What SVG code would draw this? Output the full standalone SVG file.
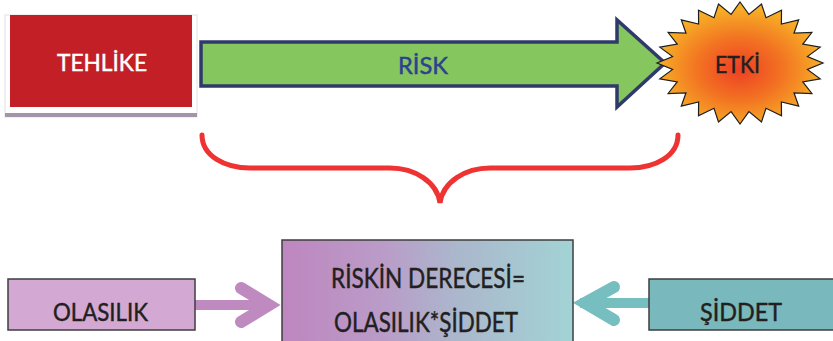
<svg xmlns="http://www.w3.org/2000/svg" width="833" height="341" viewBox="0 0 833 341">
<defs>
<radialGradient id="burst" cx="0.5" cy="0.55" r="0.5">
<stop offset="0" stop-color="#EE3F24"/>
<stop offset="0.5" stop-color="#F27222"/>
<stop offset="1" stop-color="#F7AE26"/>
</radialGradient>
<linearGradient id="mix" x1="0" y1="0" x2="1" y2="0">
<stop offset="0" stop-color="#BE86BF"/>
<stop offset="0.35" stop-color="#BA9CC8"/>
<stop offset="0.6" stop-color="#ABB7CC"/>
<stop offset="1" stop-color="#A2D3D5"/>
</linearGradient>
</defs>
<style>
text{font-family:Lato,"Liberation Sans",sans-serif;text-anchor:middle;stroke-width:0.45}
.dark{fill:#231F20;stroke:#231F20}
.box{stroke:#3E3E3E;stroke-width:1.5}
.arm{fill:none;stroke-linecap:round;stroke-linejoin:miter;stroke-width:12}
.shaft{fill:none;stroke-width:10}
</style>
<rect width="833" height="341" fill="#FFFFFF"/>

<g id="connectors">
<path d="M202,135 C202,156 225,168 250,168 L390,168 C415,168 437,182 440,203 C443,182 465,168 490,168 L630,168 C655,168 678,156 678,135" fill="none" stroke="#EF3232" stroke-width="5" stroke-linecap="round"/>
<g id="arrow-olasilik">
<line class="shaft" x1="195" y1="305" x2="268" y2="305" stroke="#BE8ABF"/>
<polyline class="arm" points="241,288 269,305 241,322" stroke="#BE8ABF"/>
</g>
<g id="arrow-siddet">
<line class="shaft" x1="649" y1="303" x2="580" y2="303" stroke="#76BEC0"/>
<polyline class="arm" points="614,287 585,303 614,320" stroke="#76BEC0"/>
</g>
</g>

<g id="tehlike">
<rect x="5" y="15" width="192" height="102" fill="#FFFFFF" stroke="#E2E0E4" stroke-width="1"/>
<rect x="10" y="15" width="182" height="92" fill="#C31F26"/>
<rect x="5" y="113" width="192" height="4" fill="#A494AA"/>
<text x="102" y="71" font-size="24" fill="#FFFFFF" stroke="#FFFFFF" textLength="90" lengthAdjust="spacingAndGlyphs">TEHLİKE</text>
</g>

<g id="risk">
<path d="M201,42 L617,42 L617,20 L665,63 L617,107 L617,86 L201,86 Z" fill="#85C65F" stroke="#2F3A6B" stroke-width="3.5" stroke-linejoin="miter"/>
<text x="423" y="74" font-size="23" fill="#2E4190" stroke="#2E4190" textLength="50" lengthAdjust="spacingAndGlyphs">RİSK</text>
</g>

<g id="etki">
<polygon fill="url(#burst)" stroke="#1E1E1E" stroke-width="1.2" points="740,2 748.9,14.4 761.5,4.1 766,17.7 781.5,10.2 781.4,24.1 798.7,19.9 794,33.2 811.9,32.5 802.8,44.2 820.2,47.2 807.4,56.6 823,63 807.4,69.4 820.2,78.8 802.8,81.8 811.9,93.5 794,92.8 798.7,106.1 781.4,101.9 781.5,115.8 766,108.3 761.5,121.9 748.9,111.6 740,124 731.1,111.6 718.5,121.9 714,108.3 698.5,115.8 698.6,101.9 681.3,106.1 686,92.8 668.1,93.5 677.2,81.8 659.8,78.8 672.6,69.4 657,63 672.6,56.6 659.8,47.2 677.2,44.2 668.1,32.5 686,33.2 681.3,19.9 698.6,24.1 698.5,10.2 714,17.7 718.5,4.1 731.1,14.4"/>
<text x="737.5" y="73" font-size="24" class="dark" textLength="45" lengthAdjust="spacingAndGlyphs">ETKİ</text>
</g>

<g id="olasilik">
<rect class="box" x="8" y="279" width="187" height="51" fill="#D3A9D3"/>
<text x="100.5" y="321" font-size="25" class="dark" textLength="95" lengthAdjust="spacingAndGlyphs">OLASILIK</text>
</g>

<g id="derece">
<rect class="box" x="282" y="240" width="291" height="115" fill="url(#mix)"/>
<text x="428" y="288" font-size="27" class="dark" textLength="194" lengthAdjust="spacingAndGlyphs">RİSKİN DERECESİ=</text>
<text x="426" y="332" font-size="27" class="dark" textLength="184" lengthAdjust="spacingAndGlyphs">OLASILIK*ŞİDDET</text>
</g>

<g id="siddet">
<rect class="box" x="649" y="279" width="195" height="51" fill="#79B9BD"/>
<text x="741" y="321" font-size="25" class="dark" textLength="82" lengthAdjust="spacingAndGlyphs">ŞİDDET</text>
</g>
</svg>
